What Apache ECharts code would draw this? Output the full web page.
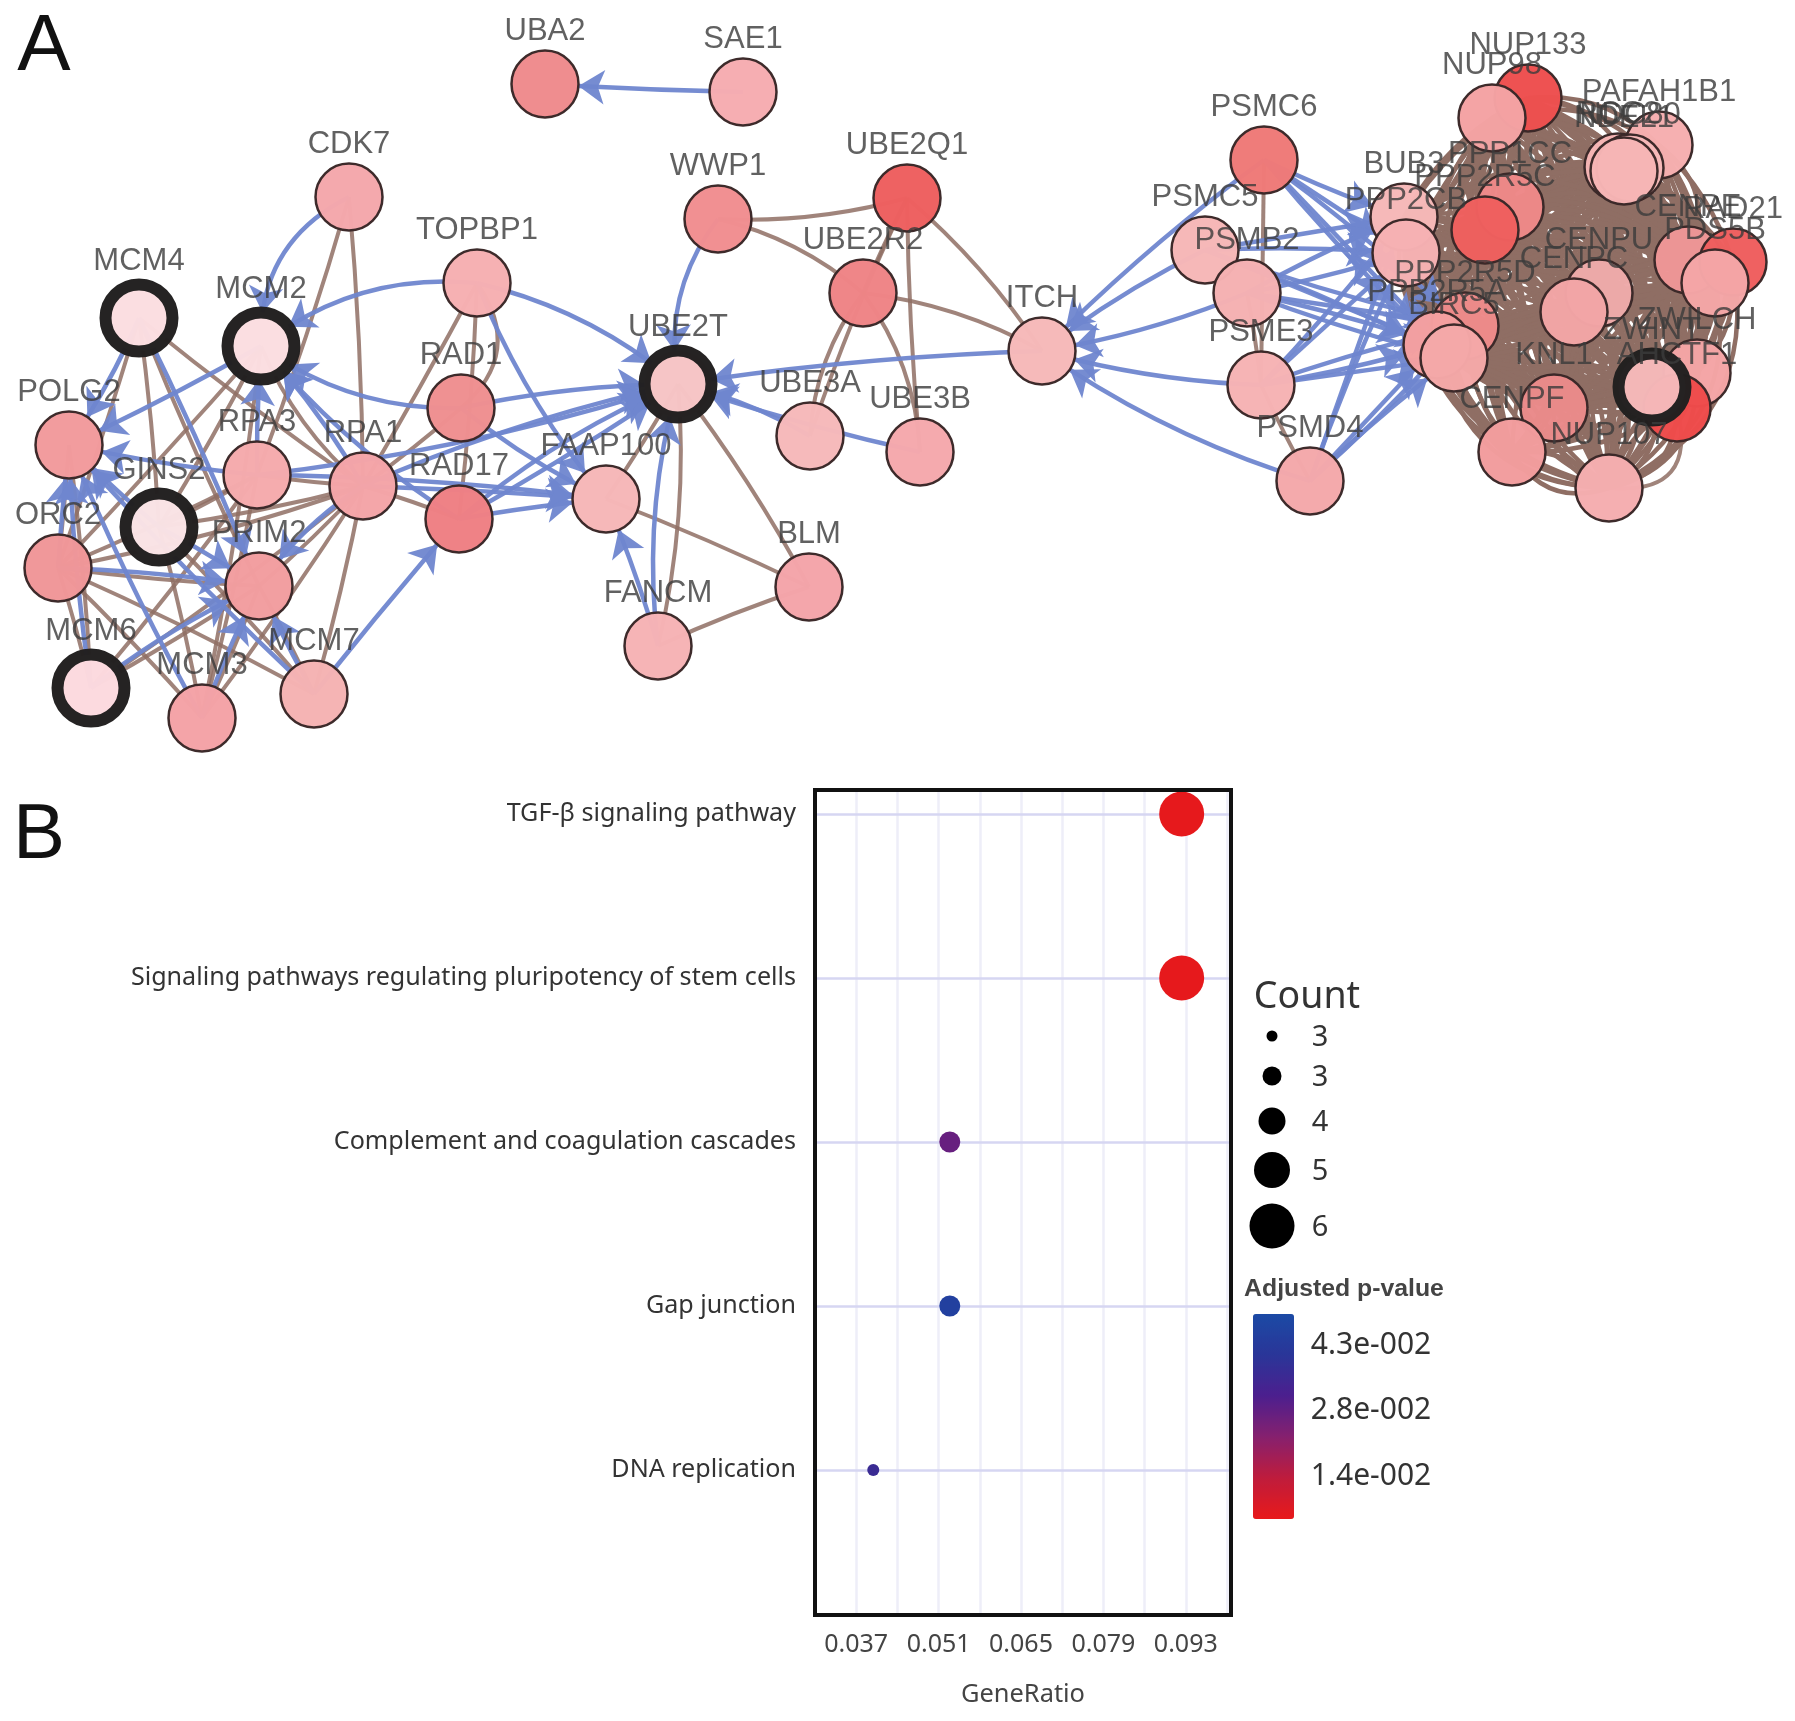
<!DOCTYPE html>
<html>
<head>
<meta charset="utf-8">
<style>html,body{margin:0;padding:0;background:#fff}#c{width:1795px;height:1721px}</style>
<script src="https://cdn.jsdelivr.net/npm/echarts@6/dist/echarts.min.js"></script>
</head>
<body>
<div id="c"></div>
<script>
// ---------- Panel A: network ----------
const nodeNames = ['UBA2','SAE1','CDK7','TOPBP1','MCM4','MCM2','RAD1','POLG2','RPA3','RPA1','RAD17','GINS2','ORC2','PRIM2','MCM6','MCM3','MCM7','FAAP100','UBE2T','WWP1','UBE2Q1','UBE2R2','ITCH','UBE3A','UBE3B','BLM','FANCM','PSMC6','PSMC5','PSMB2','PSME3','PSMD4','NUP133','NUP98','PAFAH1B1','RCC2','NDC80','NDEL1','PPP1CC','PPP2R5C','BUB3','PPP2CB','PPP2R5D','PPP2R5A','BIRC5','CENPU','CENPC','CENPE','RAD21','PDS5B','ZWILCH','AHCTF1','ZWINT','KNL1','CENPF','NUP107'];
const nodeX = [545,743,349,477,139,261,461,69,257,363,459,159,58,259,91,202,314,606,678,718,907,863,1042,810,920,809,658,1264,1205,1247,1261,1310,1528,1492,1659,1618,1630,1624,1510,1485,1404,1406,1465,1437,1454,1599,1574,1688,1733,1715,1697,1677,1652,1554,1512,1609];
const nodeY = [84,92,197,283,318,346,408,445,475,486,519,527,568,586,688,718,694,499,384,219,198,293,351,436,452,587,646,160,250,293,385,481,98,118,145,167,168,171,207,230,217,253,326,345,358,293,312,260,262,283,373,408,387,408,452,488];
const nodeFills = ['#ef8b8d','#f6adb1','#f4a8ac','#f6b0b2','#fbdde1','#fbdde1','#ef8f90','#f29a9c','#f5abad','#f4a5a8','#ef8084','#f9e3e5','#f09698','#f29da0','#fcd9de','#f4a3a7','#f5b3b3','#f6b7b8','#f6c4c5','#f18e90','#ee5f60','#ef8486','#f6b9b9','#f6b9ba','#f5a9ad','#f4a5aa','#f6b3b5','#ef7a78','#f6b7b7','#f5b1b2','#f6b3b4','#f4a9ab','#ee4f4f','#f4a3a4','#f6afb0','#f6b5b5','#f6b9b9','#f6b5b5','#ee8888','#ef5f5e','#f6b8b8','#f6b1b3','#ee8a8a','#f4a0a0','#f4a8a8','#eeaaaa','#f2a5a6','#ee9596','#ef5e5e','#f4a6a7','#f4a5a6','#ef4b4b','#f5b8b9','#ea8a8a','#f29c9d','#f5aeb0'];
const hubNodes = ['MCM4','MCM2','GINS2','MCM6','UBE2T','ZWINT'];

const activationEdges = [
 ['SAE1','UBA2',0.01],['CDK7','MCM2',-0.32],['TOPBP1','MCM2',-0.2],['TOPBP1','UBE2T',0.12],['TOPBP1','FAAP100',-0.08],
 ['RAD1','MCM2',0.17],['RAD1','UBE2T',0.05],['RAD1','FAAP100',-0.06],['RPA1','MCM2',-0.06],['RPA1','UBE2T',0.05],['RPA1','FAAP100',0.01],
 ['RPA1','PRIM2',-0.1],['RAD17','MCM2',0.08],['RAD17','UBE2T',0.08],['RAD17','UBE2T',-0.02],['RAD17','FAAP100',0.02],['RPA3','FAAP100',0.03],
 ['RPA3','MCM2',0.02],['RPA3','POLG2',0.03],['RPA3','UBE2T',-0.05],['MCM2','POLG2',0.02],['MCM4','POLG2',0.05],['GINS2','POLG2',0.02],['ORC2','POLG2',0.01],
 ['MCM6','POLG2',0.03],['MCM3','POLG2',0.03],['MCM7','POLG2',0.02],['MCM4','PRIM2',0.02],['ORC2','PRIM2',0.03],['MCM6','PRIM2',0.06],['MCM3','PRIM2',0.03],
 ['MCM7','RAD17',0.01],['GINS2','PRIM2',0.02],['MCM7','PRIM2',0.02],
 ['FANCM','UBE2T',0.1],['FANCM','FAAP100',-0.03],['WWP1','UBE2T',-0.22],['UBE3A','UBE2T',-0.08],['UBE3B','UBE2T',0.03],['ITCH','UBE2T',-0.03],
 ['PSMC6','ITCH',-0.04],['PSMC5','ITCH',-0.05],['PSMB2','ITCH',0.06],['PSME3','ITCH',0.06],['PSMD4','ITCH',0.08]
];
const bindingEdges = [
 ['WWP1','UBE2Q1',-0.08],['WWP1','UBE2R2',0.12],['UBE2Q1','UBE3A',-0.03],['UBE2Q1','UBE3B',-0.02],['UBE2Q1','ITCH',0.07],['UBE2R2','ITCH',0.1],
 ['UBE2R2','UBE3A',-0.15],['UBE2R2','UBE3B',0.15],['UBE2R2','UBE2Q1',0.02],['UBE2T','FAAP100',0.02],['UBE2T','FANCM',0.08],['UBE2T','BLM',0.04],['FAAP100','BLM',0.02],['FANCM','BLM',0.03],
 ['CDK7','RPA3',0.02],['CDK7','RPA1',0.02],['TOPBP1','RPA1',0.01],['TOPBP1','RAD17',0.02],['TOPBP1','RAD1',0.45],['RAD1','RPA1',0.02],['RPA1','RAD17',0.02],['RPA1','MCM2',0.12],
 ['RPA1','RPA3',0.02],['RPA1','GINS2',0.03],['RPA1','ORC2',0.04],['RPA1','PRIM2',0.03],['RPA1','MCM6',0.02],['RPA1','MCM3',0.02],['RPA1','MCM7',0.02],['RPA1','MCM4',0.02],
 ['MCM4','ORC2',0.01],['MCM4','GINS2',0.02],['MCM4','PRIM2',-0.02],['MCM2','ORC2',0.01],['MCM2','GINS2',0.02],['MCM2','MCM3',0.02],['RPA3','ORC2',0.02],['RPA3','GINS2',0.02],
 ['RPA3','MCM3',0.02],['RPA3','MCM6',0.02],['PRIM2','MCM3',0.02],['PRIM2','MCM6',0.02],['PRIM2','ORC2',0.02],['PRIM2','MCM7',0.02],['ORC2','MCM3',0.02],['ORC2','MCM7',0.02],
 ['ORC2','MCM6',0.02],['POLG2','MCM6',0.02],['POLG2','ORC2',0.01],['GINS2','MCM3',0.02],['GINS2','MCM7',0.02],
 ['PSMC6','PSME3',0.0],['PSMD4','PSME3',0.02],['PSMB2','PSME3',0.02],['PPP2CB','PPP2R5A',0.03],['NUP107','AHCTF1',-0.7]
];
const proteasomeNodes = ['PSMC6','PSMC5','PSMB2','PSME3','PSMD4'];
const phosphataseNodes = ['BUB3','PPP2CB','PPP2R5D','PPP2R5A','BIRC5'];
const kinetochoreNodes = ['NUP133','NUP98','PAFAH1B1','RCC2','NDC80','NDEL1','PPP1CC','PPP2R5C','BUB3','PPP2CB','PPP2R5D','PPP2R5A','BIRC5','CENPU','CENPC','CENPE','RAD21','PDS5B','ZWILCH','AHCTF1','ZWINT','KNL1','CENPF','NUP107'];
const bendSteps = [0.05,0.24,0.1,0.33,0.07,0.16,0.4,0.13];

// ---------- Panel B: dot plot ----------
const pathways = ['TGF-β signaling pathway','Signaling pathways regulating pluripotency of stem cells','Complement and coagulation cascades','Gap junction','DNA replication'];
const geneRatio = [0.0923,0.0923,0.0529,0.0529,0.0399];
const adjustedP = [0.0055,0.0055,0.028,0.046,0.037];
const counts = [6,6,3.6,3.6,2.7];
const xTickValues = [0.037,0.051,0.065,0.079,0.093];
const legendCounts = [2.6,3.4,4.2,5.1,6];
const pTickLabels = ['4.3e-002','2.8e-002','1.4e-002'];

// ---------- layout & style ----------
const PAGE_W = 1795, PAGE_H = 1721;
const SANS = 'Liberation Sans, Arial, sans-serif';
const UI = '"Noto Sans", "Open Sans", sans-serif';
const BLUE = '#6f86cf', BROWN = '#8f6e64';
const sizeOf = c => 11 + (c - 2.6) * 10;
const at = {}; nodeNames.forEach((n, i) => at[n] = [nodeX[i], nodeY[i]]);
const mid = [1570, 300];

const nodes = nodeNames.map((name, i) => {
  const hub = hubNodes.includes(name);
  return {
    name, value: [nodeX[i], nodeY[i]],
    symbolSize: 67,
    itemStyle: { color: nodeFills[i], opacity: 0.985, borderColor: hub ? '#221f1f' : '#3a2828', borderWidth: hub ? 12 : 2.5 }
  };
});
const links = [];
kinetochoreNodes.forEach((a, i) => kinetochoreNodes.slice(i + 1).forEach((b, j) => {
  const p = at[a], q = at[b];
  const cx = (p[0] + q[0]) / 2 - (p[1] - q[1]), cy = (p[1] + q[1]) / 2 - (q[0] - p[0]);
  const cx2 = (p[0] + q[0]) / 2 + (p[1] - q[1]), cy2 = (p[1] + q[1]) / 2 + (q[0] - p[0]);
  const out = Math.hypot(cx - mid[0], cy - mid[1]) > Math.hypot(cx2 - mid[0], cy2 - mid[1]) ? 1 : -1;
  const bend = bendSteps[(i + j) % bendSteps.length];
  links.push({ source: a, target: b, lineStyle: { color: BROWN, width: 4.5, opacity: 1, curveness: out * bend } });
  if ((i + j) % 2 === 0) links.push({ source: a, target: b, lineStyle: { color: BROWN, width: 4.5, opacity: 1, curveness: -out * bend * 0.6 } });
}));
bindingEdges.forEach(([s, t, c]) => links.push({ source: s, target: t, lineStyle: { color: BROWN, width: 4, opacity: 0.85, curveness: c } }));
const addArrow = (s, t, c) => links.push({ source: s, target: t, symbol: ['none', 'arrow'], symbolSize: [10, 26], lineStyle: { color: BLUE, width: 4.5, opacity: 0.95, curveness: c } });
activationEdges.forEach(([s, t, c]) => addArrow(s, t, c));
proteasomeNodes.forEach((s, i) => phosphataseNodes.forEach((t, j) => addArrow(s, t, ((i + j) % 3 - 1) * 0.03)));

const countLegendY = [1036, 1076, 1121, 1170, 1226];
const pLabelY = [1345, 1410, 1476];
const panel = { x: 815, y: 790, width: 416, height: 825 };

const option = {
  animation: false,
  backgroundColor: '#fff',
  grid: [
    { left: 0, right: 0, top: 0, bottom: 0, show: false },
    { left: panel.x, width: panel.width, top: panel.y, height: panel.height, show: false }
  ],
  xAxis: [
    { gridIndex: 0, type: 'value', min: 0, max: PAGE_W, show: false },
    { gridIndex: 1, type: 'value', min: 0.03, max: 0.10068, interval: 0.007,
      axisLine: { show: false }, axisTick: { show: false },
      splitLine: { show: true, lineStyle: { color: '#eeeef8', width: 2.5 } },
      axisLabel: { customValues: xTickValues, formatter: v => v.toFixed(3), fontFamily: UI, fontSize: 25, color: '#444', margin: 17 },
      name: 'GeneRatio', nameLocation: 'middle', nameGap: 67, nameTextStyle: { fontFamily: UI, fontSize: 25.4, color: '#444' } }
  ],
  yAxis: [
    { gridIndex: 0, type: 'value', min: 0, max: PAGE_H, inverse: true, show: false },
    { gridIndex: 1, type: 'value', min: -0.146, max: 4.884, inverse: true,
      axisLine: { show: false }, axisTick: { show: false }, splitLine: { show: false },
      axisLabel: { customValues: pathways.map((_, i) => i), formatter: v => pathways[v] || '', fontFamily: UI, fontSize: 25.1, color: '#333', margin: 19 } }
  ],
  visualMap: {
    type: 'continuous', seriesIndex: 1, dimension: 2, min: 0.005, max: 0.0503,
    left: 1238, top: 1299, itemWidth: 41, itemHeight: 205, calculable: false, hoverLink: false, text: null,
    inRange: { color: ['#e8191a', '#bf1c3c', '#86206e', '#4c1f8e', '#2a3598', '#1b4aa5'] }
  },
  series: [
    { type: 'graph', coordinateSystem: 'cartesian2d', xAxisIndex: 0, yAxisIndex: 0, layout: 'none', roam: false, silent: true, z: 3,
      data: nodes, links,
      label: { show: true, position: 'top', distance: 2, fontFamily: SANS, fontSize: 31, color: 'rgba(60,60,60,0.82)', formatter: '{b}' } },
    { type: 'scatter', xAxisIndex: 1, yAxisIndex: 1, silent: true, z: 4,
      data: pathways.map((_, i) => [geneRatio[i], i, adjustedP[i], counts[i]]),
      symbolSize: d => sizeOf(d[3]), itemStyle: { opacity: 1 },
      markLine: { silent: true, symbol: 'none', z: 1, label: { show: false }, lineStyle: { color: '#d6d6f2', width: 2.5, type: 'solid' },
        data: pathways.map((_, i) => ({ yAxis: i })) } },
    { type: 'scatter', xAxisIndex: 0, yAxisIndex: 0, silent: true,
      data: legendCounts.map((c, i) => [1272, countLegendY[i], c]),
      symbolSize: d => sizeOf(d[2]), itemStyle: { color: '#000', opacity: 1 },
      label: { show: true, position: 'inside', offset: [48, 2], formatter: p => String(Math.round(p.value[2])), fontFamily: UI, fontSize: 29, color: '#333' } }
  ],
  graphic: [
    { type: 'rect', z: 20, shape: panel, style: { fill: 'none', stroke: '#111', lineWidth: 4 } },
    { type: 'text', x: 44, y: 48, style: { text: 'A', fontFamily: SANS, fontSize: 80, fill: '#111', textAlign: 'center', textVerticalAlign: 'middle' } },
    { type: 'text', x: 39, y: 836, style: { text: 'B', fontFamily: SANS, fontSize: 78, fill: '#111', textAlign: 'center', textVerticalAlign: 'middle' } },
    { type: 'text', x: 1307, y: 997, style: { text: 'Count', fontFamily: UI, fontSize: 37.5, fill: '#333', textAlign: 'center', textVerticalAlign: 'middle' } },
    { type: 'text', x: 1344, y: 1289, style: { text: 'Adjusted p-value', fontFamily: SANS, fontWeight: 'bold', fontSize: 24.8, fill: '#444', textAlign: 'center', textVerticalAlign: 'middle' } }
  ].concat(pTickLabels.map((t, i) => ({
    type: 'text', x: 1371, y: pLabelY[i], style: { text: t, fontFamily: UI, fontSize: 30, fill: '#333', textAlign: 'center', textVerticalAlign: 'middle' }
  })))
};
const chart = echarts.init(document.getElementById('c'), null, { renderer: 'canvas', width: PAGE_W, height: PAGE_H });
chart.setOption(option);
</script>
</body>
</html>
